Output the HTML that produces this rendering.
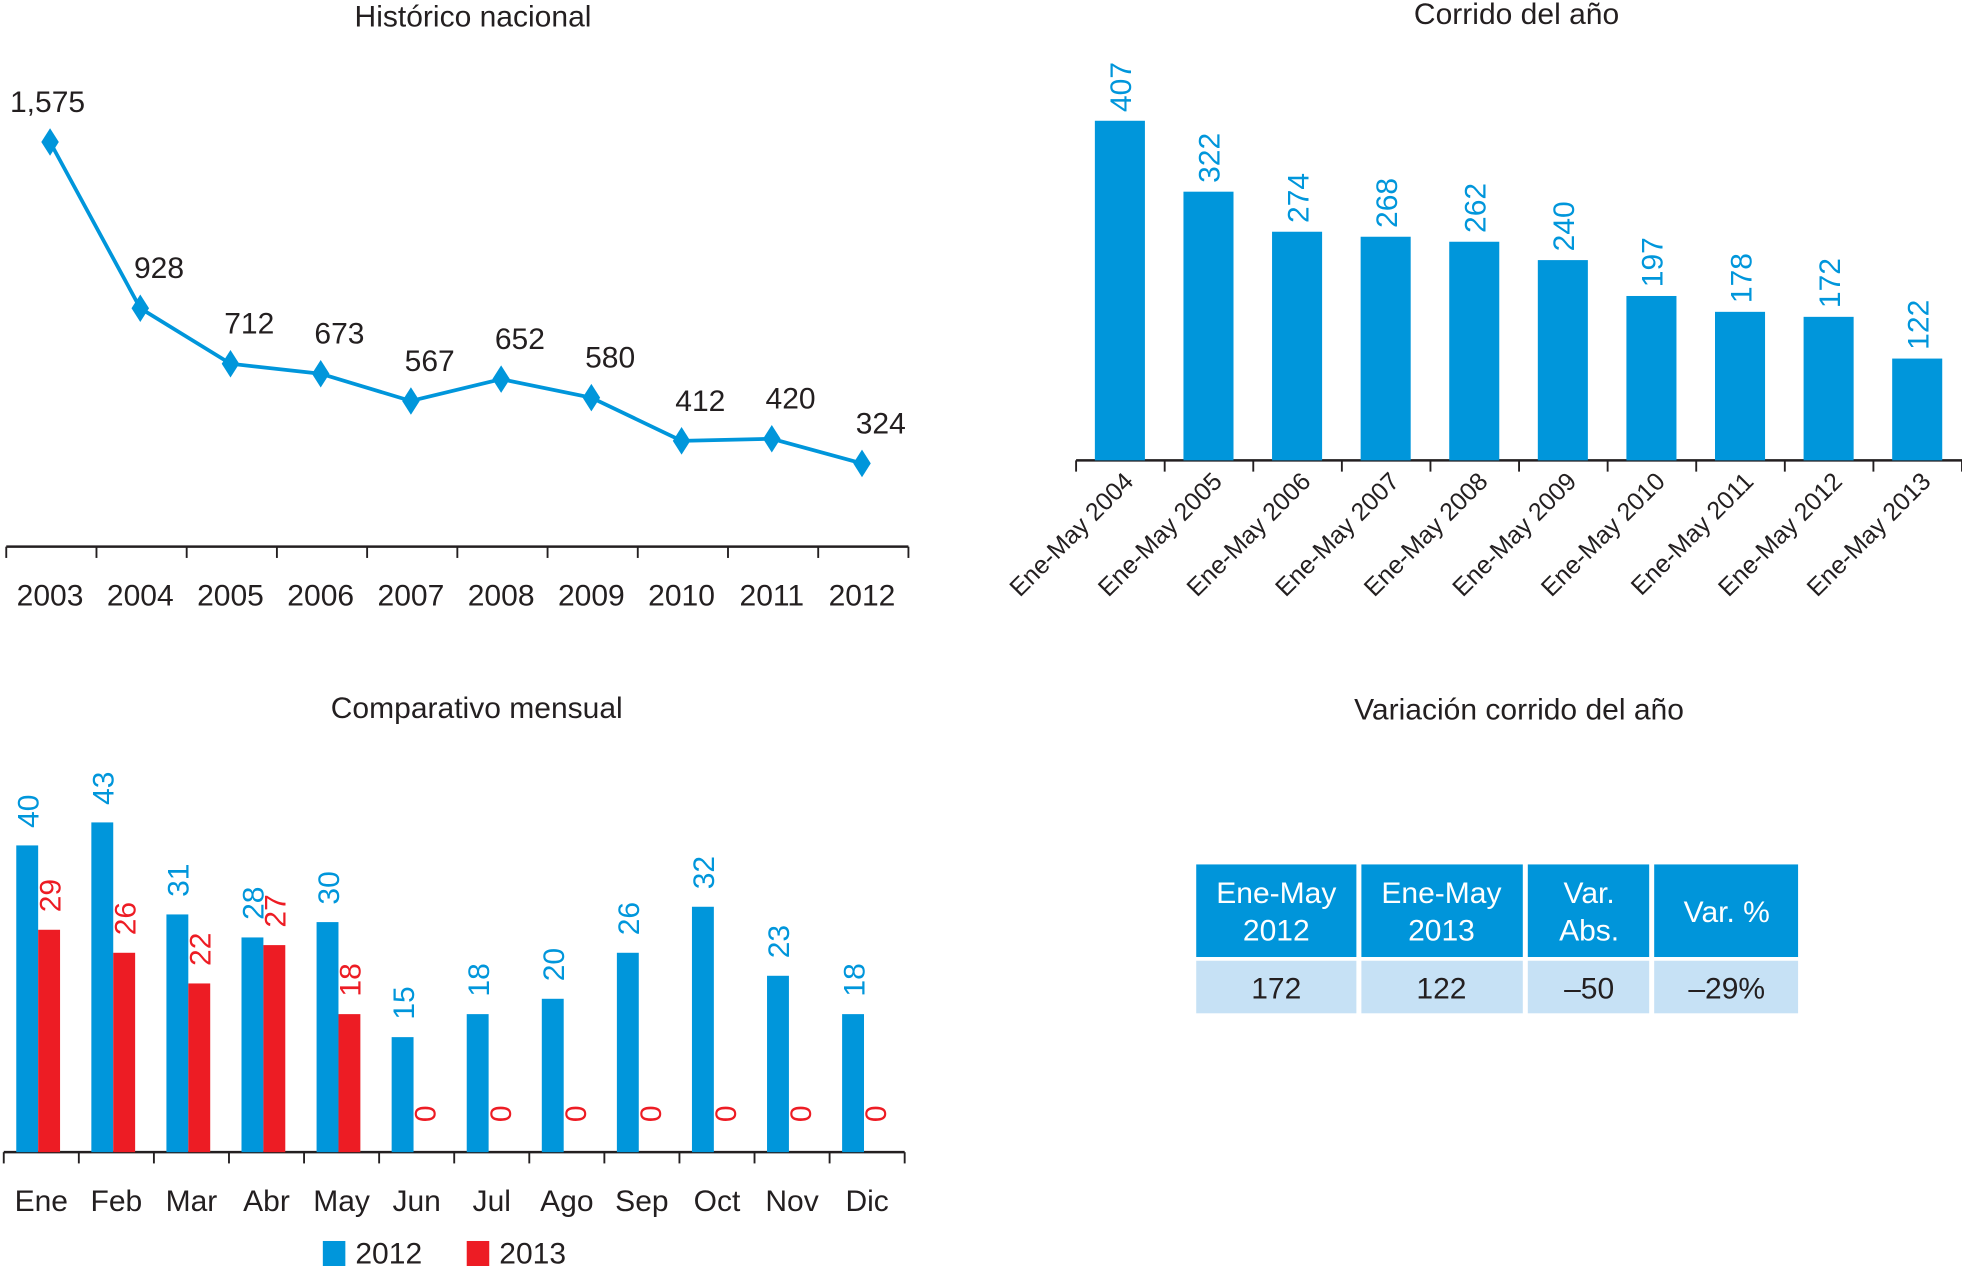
<!DOCTYPE html>
<html><head><meta charset="utf-8"><style>
html,body{margin:0;padding:0;background:#fff;}
svg{display:block;font-family:"Liberation Sans",Arial,sans-serif;}
</style></head><body>
<svg id="s" width="1962" height="1266" viewBox="0 0 1568 1012" preserveAspectRatio="none">
<g id="g1"></g>
<g id="g2"></g>
<g id="g3"></g>
<g id="g4">
<text x="1214" y="575" text-anchor="middle" font-size="24" fill="#231f20">Variación corrido del año</text>
<rect x="956" y="691" width="128" height="74" fill="#0095da"/>
<rect x="1088" y="691" width="129" height="74" fill="#0095da"/>
<rect x="1221" y="691" width="97" height="74" fill="#0095da"/>
<rect x="1322" y="691" width="115" height="74" fill="#0095da"/>
<rect x="956" y="768" width="128" height="42" fill="#c6e1f5"/>
<rect x="1088" y="768" width="129" height="42" fill="#c6e1f5"/>
<rect x="1221" y="768" width="97" height="42" fill="#c6e1f5"/>
<rect x="1322" y="768" width="115" height="42" fill="#c6e1f5"/>
<g fill="#fff" font-size="24" text-anchor="middle">
<text x="1020" y="722">Ene-May</text><text x="1020" y="752">2012</text>
<text x="1152" y="722">Ene-May</text><text x="1152" y="752">2013</text>
<text x="1270" y="722">Var.</text><text x="1270" y="752">Abs.</text>
<text x="1380" y="737">Var. %</text>
</g>
<g fill="#231f20" font-size="24" text-anchor="middle">
<text x="1020" y="798">172</text>
<text x="1152" y="798">122</text>
<text x="1270" y="798">–50</text>
<text x="1380" y="798">–29%</text>
</g>
</g>
</svg>
<script>
const years=["2003","2004","2005","2006","2007","2008","2009","2010","2011","2012"];
const histValues=[1575,928,712,673,567,652,580,412,420,324];
const histLabels=["1,575","928","712","673","567","652","580","412","420","324"];
const corrCats=["Ene-May 2004","Ene-May 2005","Ene-May 2006","Ene-May 2007","Ene-May 2008","Ene-May 2009","Ene-May 2010","Ene-May 2011","Ene-May 2012","Ene-May 2013"];
const corrValues=[407,322,274,268,262,240,197,178,172,122];
const months=["Ene","Feb","Mar","Abr","May","Jun","Jul","Ago","Sep","Oct","Nov","Dic"];
const vals2012=[40,43,31,28,30,15,18,20,26,32,23,18];
const vals2013=[29,26,22,27,18,0,0,0,0,0,0,0];

const NS="http://www.w3.org/2000/svg";
const BLUE="#0096db",RED="#ed1c24",DARK="#231f20";
function mk(p,tag,at,txt){const e=document.createElementNS(NS,tag);for(const k in at)e.setAttribute(k,at[k]);if(txt!=null)e.textContent=txt;p.appendChild(e);return e;}

// Chart 1
const g1=document.getElementById('g1');
const x1=i=>40+i*72.1, y1=v=>437-v*0.2054;
let t=mk(g1,'text',{x:378,y:21,'text-anchor':'middle','font-size':24,fill:DARK},'Histórico nacional');


let ax=mk(g1,'line',{x1:5,y1:437,x2:726,y2:437,stroke:DARK,'stroke-width':2});


for(let i=0;i<=10;i++){const tx=5+i*72.1;const tk=mk(g1,'line',{x1:tx,y1:437,x2:tx,y2:446,stroke:DARK,'stroke-width':1.5});

}
const pts=histValues.map((v,i)=>x1(i)+','+y1(v)).join(' ');
const pl=mk(g1,'polyline',{points:pts,fill:'none',stroke:BLUE,'stroke-width':3});


histValues.forEach((v,i)=>{const cx=x1(i),cy=y1(v);
const m=mk(g1,'polygon',{points:`${cx},${cy-11} ${cx+7},${cy} ${cx},${cy+11} ${cx-7},${cy}`,fill:BLUE});


const l=mk(g1,'text',{x:cx+(i==0?-2:15),y:cy-24,'text-anchor':'middle','font-size':24,fill:DARK},histLabels[i]);


const yl=mk(g1,'text',{x:cx,y:484,'text-anchor':'middle','font-size':24,fill:DARK},years[i]);

});

// Chart 2
const g2=document.getElementById('g2');
const x2=i=>895+i*70.8, y2=v=>368-v*0.667;
t=mk(g2,'text',{x:1212,y:19,'text-anchor':'middle','font-size':24,fill:DARK},'Corrido del año');


ax=mk(g2,'line',{x1:860,y1:368,x2:1568,y2:368,stroke:DARK,'stroke-width':2});


for(let i=0;i<=10;i++){const tx=860+i*70.8;const tk=mk(g2,'line',{x1:tx,y1:368,x2:tx,y2:377,stroke:DARK,'stroke-width':1.5});

}
corrValues.forEach((v,i)=>{const cx=x2(i),top=y2(v);
const b=mk(g2,'rect',{x:cx-20,y:top,width:40,height:368-top,fill:BLUE});


const l=mk(g2,'text',{x:cx+9,y:top-7,transform:`rotate(-90 ${cx+9} ${top-7})`,'font-size':24,fill:BLUE},String(v));


const ccx=cx+12,ccy=386;
const c=mk(g2,'text',{x:ccx,y:ccy,transform:`rotate(-45 ${ccx} ${ccy})`,'text-anchor':'end','font-size':20,fill:DARK},corrCats[i]);

});

// Chart 3
const g3=document.getElementById('g3');
const gx=i=>3+i*60, y3=v=>921-v*6.13;
t=mk(g3,'text',{x:381,y:574,'text-anchor':'middle','font-size':24,fill:DARK},'Comparativo mensual');


ax=mk(g3,'line',{x1:3,y1:921,x2:723,y2:921,stroke:DARK,'stroke-width':2});


for(let i=0;i<=12;i++){const tk=mk(g3,'line',{x1:gx(i),y1:921,x2:gx(i),y2:930,stroke:DARK,'stroke-width':1.5});

}
months.forEach((m,i)=>{const bx=gx(i)+10;
const t1=y3(vals2012[i]),t2=y3(vals2013[i]);
const b1=mk(g3,'rect',{x:bx,y:t1,width:17.5,height:921-t1,fill:BLUE});


if(vals2013[i]>0){const b2=mk(g3,'rect',{x:bx+17.5,y:t2,width:17.5,height:921-t2,fill:RED});

}
const lx1=bx+8.75+9,ly1=t1-14;
const l1=mk(g3,'text',{x:lx1,y:ly1,transform:`rotate(-90 ${lx1} ${ly1})`,'font-size':24,fill:BLUE},String(vals2012[i]));


const lx2=bx+26.25+9,ly2=vals2013[i]>0?t2-14:t2-24;
const l2=mk(g3,'text',{x:lx2,y:ly2,transform:`rotate(-90 ${lx2} ${ly2})`,'font-size':24,fill:RED},String(vals2013[i]));


const ml=mk(g3,'text',{x:gx(i)+30,y:968,'text-anchor':'middle','font-size':24,fill:DARK},m);

});
let lg=mk(g3,'rect',{x:258,y:992,width:18,height:20,fill:BLUE});


lg=mk(g3,'text',{x:284,y:1010,'font-size':24,fill:DARK},'2012');


lg=mk(g3,'rect',{x:373,y:992,width:18,height:20,fill:RED});


lg=mk(g3,'text',{x:399,y:1010,'font-size':24,fill:DARK},'2013');


</script>
</body></html>
